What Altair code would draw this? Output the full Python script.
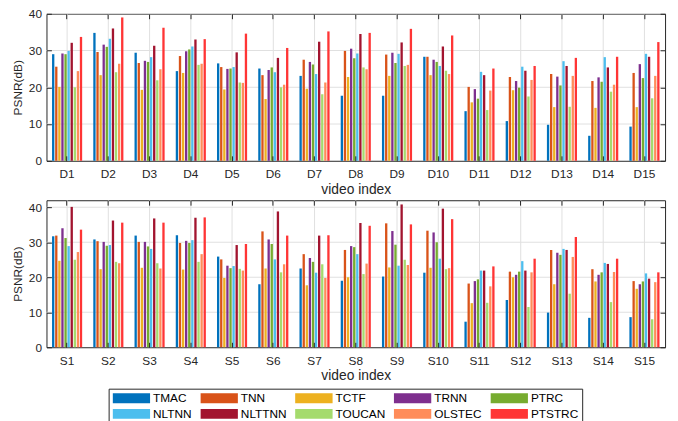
import altair as alt
import pandas as pd

methods = ["TMAC", "TNN", "TCTF", "TRNN", "PTRC", "NLTNN", "NLTTNN", "TOUCAN", "OLSTEC", "PTSTRC"]
colors = ["#0072BD", "#D95319", "#EDB120", "#7E2F8E", "#77AC30", "#4DBEEE", "#A2142F", "#A5DB6D", "#FF8C5A", "#FF3535"]

d_videos = ["D1", "D2", "D3", "D4", "D5", "D6", "D7", "D8", "D9", "D10", "D11", "D12", "D13", "D14", "D15"]
s_videos = ["S1", "S2", "S3", "S4", "S5", "S6", "S7", "S8", "S9", "S10", "S11", "S12", "S13", "S14", "S15"]

d_tmac   = [29.0, 34.8, 29.4, 24.4, 26.5, 25.1, 23.1, 17.7, 17.7, 28.3, 13.5, 10.8, 9.8, 6.8, 9.3]
d_tnn    = [25.6, 29.6, 26.6, 28.5, 25.5, 23.3, 27.5, 29.9, 28.9, 28.3, 20.1, 22.8, 23.6, 21.7, 23.9]
d_tctf   = [20.1, 23.3, 19.3, 23.9, 19.4, 16.8, 19.6, 22.8, 23.1, 23.3, 15.9, 19.2, 14.6, 14.4, 14.6]
d_trnn   = [29.2, 31.6, 27.2, 29.8, 25.0, 24.7, 26.9, 30.5, 29.4, 27.5, 19.5, 21.7, 22.9, 22.7, 26.3]
d_ptrc   = [29.0, 31.0, 26.9, 30.3, 25.1, 25.4, 26.2, 27.9, 26.6, 26.9, 16.9, 19.9, 20.5, 21.5, 22.5]
d_nltnn  = [29.9, 33.2, 28.2, 31.1, 25.5, 24.1, 23.6, 29.2, 29.1, 25.8, 24.2, 25.6, 27.1, 28.2, 29.1]
d_nlttnn = [32.1, 36.0, 31.3, 33.0, 29.5, 28.0, 32.4, 34.5, 32.2, 31.1, 23.3, 24.5, 25.8, 25.4, 28.3]
d_toucan = [20.0, 24.1, 21.9, 26.1, 21.3, 20.0, 18.1, 25.4, 25.8, 24.5, 13.8, 17.5, 14.7, 18.8, 17.0]
d_olstec = [24.4, 26.4, 24.9, 26.4, 21.2, 20.7, 21.3, 24.9, 26.1, 23.6, 19.1, 22.0, 23.1, 20.7, 23.1]
d_ptstrc = [33.7, 39.0, 36.2, 33.1, 34.6, 30.7, 35.2, 34.8, 35.9, 34.1, 25.1, 25.8, 28.0, 28.3, 32.3]

s_tmac   = [31.7, 30.8, 31.9, 32.0, 25.9, 18.0, 22.5, 19.0, 20.2, 21.3, 7.3, 13.5, 9.9, 8.4, 8.6]
s_tnn    = [31.9, 30.3, 30.1, 29.8, 25.1, 33.1, 26.6, 27.8, 35.4, 33.3, 18.2, 21.6, 27.8, 22.3, 18.9]
s_tctf   = [24.7, 22.3, 22.7, 22.2, 19.8, 22.5, 17.7, 20.0, 22.8, 22.7, 12.6, 20.0, 18.0, 18.8, 16.7]
s_trnn   = [34.0, 30.1, 30.1, 30.4, 23.3, 30.8, 25.5, 28.9, 33.2, 32.8, 18.9, 20.7, 27.0, 20.7, 18.0]
s_ptrc   = [31.2, 29.0, 28.8, 29.8, 22.6, 29.5, 24.4, 28.6, 29.3, 30.0, 19.4, 21.6, 26.4, 21.4, 18.8]
s_nltnn  = [28.9, 29.2, 28.1, 30.6, 23.2, 25.1, 21.3, 26.6, 23.3, 25.3, 21.9, 24.6, 28.1, 24.1, 21.1]
s_nlttnn = [40.1, 36.2, 36.8, 37.0, 29.2, 38.8, 31.9, 35.5, 40.8, 39.6, 21.9, 21.9, 27.8, 23.8, 19.6]
s_toucan = [25.0, 24.4, 24.0, 24.4, 22.4, 21.4, 23.7, 20.9, 25.0, 22.3, 12.7, 11.5, 15.3, 12.9, 8.0]
s_olstec = [27.2, 24.0, 22.5, 26.6, 21.9, 23.7, 19.8, 23.9, 23.5, 22.6, 17.4, 21.4, 25.8, 21.5, 18.6]
s_ptstrc = [33.6, 35.6, 35.6, 37.1, 29.5, 31.9, 32.0, 34.7, 35.1, 36.6, 23.1, 25.3, 31.5, 25.3, 21.4]

y_ticks = [0, 10, 20, 30, 40]
grid_vals = [10, 20, 30, 40]

d_series = [d_tmac, d_tnn, d_tctf, d_trnn, d_ptrc, d_nltnn, d_nlttnn, d_toucan, d_olstec, d_ptstrc]
s_series = [s_tmac, s_tnn, s_tctf, s_trnn, s_ptrc, s_nltnn, s_nlttnn, s_toucan, s_olstec, s_ptstrc]

GRID = "#e0e0e0"
INK = "#262626"
FONT = "Liberation Sans"
W, H = 627, 149

legend = alt.Legend(
    title=None, orient="none", legendX=63, legendY=380, columns=5, direction="horizontal",
    symbolType="M-1,-0.263L1,-0.263L1,0.263L-1,0.263Z", symbolSize=1444,
    symbolStrokeWidth=0, symbolOpacity=1, clipHeight=11,
    labelFont=FONT, labelFontSize=12, labelColor="black", labelOffset=3,
    rowPadding=3, columnPadding=8, padding=4,
    strokeColor=INK, fillColor="white",
)


def panel(videos, series, ymax):
    rows = []
    for m, vals in zip(methods, series):
        for v, val in zip(videos, vals):
            rows.append({"video": v, "method": m, "psnr": val})
    df = pd.DataFrame(rows)
    gx = pd.DataFrame({"video": videos})
    gy = pd.DataFrame({"g": grid_vals})

    xscale = alt.Scale(domain=videos, paddingInner=0.12, paddingOuter=0.06)
    yscale = alt.Scale(domain=[0, ymax], nice=False, zero=True)

    vgrid = alt.Chart(gx).mark_rule(color=GRID, strokeWidth=1).encode(
        x=alt.X("video:N", sort=videos, scale=xscale,
                axis=alt.Axis(orient="top", title=None, labels=False, domain=False,
                              grid=False, offset=-5, tickSize=5, tickColor=INK, zindex=1))
    )
    hgrid = alt.Chart(gy).mark_rule(color=GRID, strokeWidth=1).encode(
        y=alt.Y("g:Q", scale=yscale,
                axis=alt.Axis(orient="right", title=None, labels=False, domain=False,
                              grid=False, values=y_ticks, offset=-5, tickSize=5,
                              tickColor=INK, zindex=1))
    )
    bars = alt.Chart(df).mark_bar(strokeWidth=0).encode(
        x=alt.X("video:N", sort=videos, scale=xscale,
                axis=alt.Axis(orient="bottom", title="video index", labelAngle=0,
                              domain=False, grid=False, offset=-5, tickSize=5,
                              labelPadding=8, titlePadding=3, tickColor=INK, zindex=1)),
        xOffset=alt.XOffset("method:N", sort=methods,
                            scale=alt.Scale(domain=methods, paddingInner=0.25, paddingOuter=1)),
        y=alt.Y("psnr:Q", scale=yscale,
                axis=alt.Axis(orient="left", title="PSNR(dB)", values=y_ticks,
                              domain=False, grid=False, offset=-5, tickSize=5,
                              labelPadding=5, titlePadding=4, tickColor=INK, zindex=1)),
        color=alt.Color("method:N", sort=methods,
                        scale=alt.Scale(domain=methods, range=colors), legend=legend),
    )
    return alt.layer(vgrid, hgrid, bars).resolve_axis(
        x="independent", y="independent"
    ).properties(width=W, height=H)


top = panel(d_videos, d_series, 40)
bottom = panel(s_videos, s_series, 42)

chart = alt.vconcat(top, bottom, spacing=40, bounds="flush").properties(
    padding={"left": 3, "top": -4, "right": 4, "bottom": 0}
).configure(font=FONT).configure_view(
    stroke=INK, strokeWidth=1
).configure_axis(
    labelFont=FONT, labelFontSize=12, labelColor=INK,
    titleFont=FONT, titleColor=INK, titleFontWeight="normal",
).configure_axisX(titleFontSize=14).configure_axisY(titleFontSize=12)

chart.save("out.html", embed_options={"renderer": "svg", "actions": False})
